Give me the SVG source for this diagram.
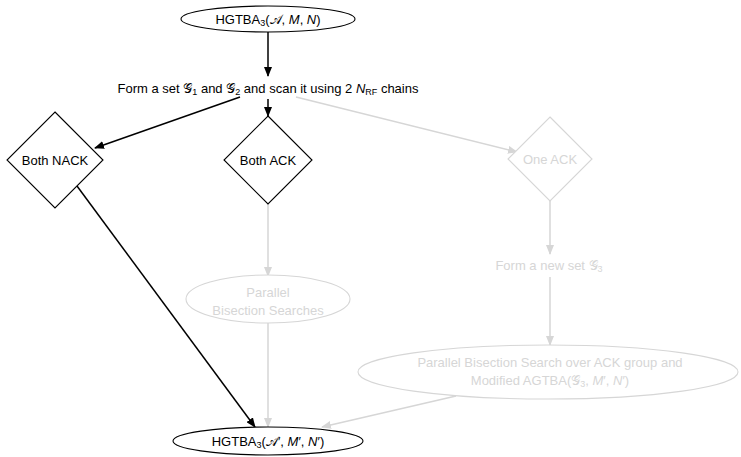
<svg xmlns="http://www.w3.org/2000/svg" width="741" height="457" viewBox="0 0 741 457">
  <style>
    text { font-family: "Liberation Sans", Arial, sans-serif; font-size: 13px; text-anchor: middle; }
    .on { fill: #000; }
    .off { fill: #d6d6d6; }
    .m { font-style: italic; }
    .sc { font-family: "DejaVu Sans", "Noto Sans", serif; font-style: normal; }
    .node-on { fill: #fff; stroke: #000; stroke-width: 1.1; }
    .node-off { fill: #fff; stroke: #d6d6d6; stroke-width: 1.1; }
    .edge-on { fill: none; stroke: #000; stroke-width: 1.5; marker-end: url(#arrow-on); }
    .edge-off { fill: none; stroke: #d6d6d6; stroke-width: 1.5; marker-end: url(#arrow-off); }
  </style>
  <defs>
    <marker id="arrow-on" viewBox="0 0 10 8" refX="9" refY="4" markerUnits="userSpaceOnUse" markerWidth="10" markerHeight="8" orient="auto">
      <path d="M0,0 L10,4 L0,8 z" fill="#000"/>
    </marker>
    <marker id="arrow-off" viewBox="0 0 10 8" refX="9" refY="4" markerUnits="userSpaceOnUse" markerWidth="10" markerHeight="8" orient="auto">
      <path d="M0,0 L10,4 L0,8 z" fill="#d6d6d6"/>
    </marker>
  </defs>

  <g id="edges">
    <path class="edge-on" d="M268,32 L268,76"/>
    <path class="edge-on" d="M240,97 L95,148"/>
    <path class="edge-on" d="M268,99 L268,116"/>
    <path class="edge-off" d="M296,97 L517,152"/>
    <path class="edge-off" d="M268,204 L268,276"/>
    <path class="edge-off" d="M268,323 L268,427"/>
    <path class="edge-on" d="M77,186 L255,427"/>
    <path class="edge-off" d="M550,201 L550,254"/>
    <path class="edge-off" d="M550,277 L550,345"/>
    <path class="edge-off" d="M456,396 L322,427"/>
  </g>

  <g id="start">
    <ellipse class="node-on" cx="268" cy="19" rx="87" ry="13"/>
    <text class="on" x="268" y="24">HGTBA<tspan font-size="9" dy="2">3</tspan><tspan dy="-2">(</tspan><tspan class="sc">𝒜</tspan>, <tspan class="m">M</tspan>, <tspan class="m">N</tspan>)</text>
  </g>

  <g id="scan">
    <text class="on" x="268" y="93">Form a set <tspan class="sc">𝒢</tspan><tspan font-size="9" dy="2">1</tspan><tspan dy="-2"> and </tspan><tspan class="sc">𝒢</tspan><tspan font-size="9" dy="2">2</tspan><tspan dy="-2"> and scan it using 2 </tspan><tspan class="m">N</tspan><tspan font-size="9" dy="2">RF</tspan><tspan dy="-2"> chains</tspan></text>
  </g>

  <g id="both-nack">
    <polygon class="node-on" points="55,112 103,160 55,208 7,160"/>
    <text class="on" x="55" y="165">Both NACK</text>
  </g>

  <g id="both-ack">
    <polygon class="node-on" points="268,116 312,160 268,204 224,160"/>
    <text class="on" x="268" y="165">Both ACK</text>
  </g>

  <g id="one-ack">
    <polygon class="node-off" points="550,117 592,159 550,201 508,159"/>
    <text class="off" x="550" y="164">One ACK</text>
  </g>

  <g id="parallel-searches">
    <ellipse class="node-off" cx="268" cy="299" rx="82" ry="24"/>
    <text class="off" x="268" y="297">Parallel</text>
    <text class="off" x="268" y="315">Bisection Searches</text>
  </g>

  <g id="new-set">
    <text class="off" x="549" y="270">Form a new set <tspan class="sc">𝒢</tspan><tspan font-size="9" dy="2">3</tspan></text>
  </g>

  <g id="search-ack-group">
    <ellipse class="node-off" cx="548" cy="372" rx="190" ry="27"/>
    <text class="off" x="550" y="367">Parallel Bisection Search over ACK group and</text>
    <text class="off" x="550" y="385">Modified AGTBA(<tspan class="sc">𝒢</tspan><tspan font-size="9" dy="2">3</tspan><tspan dy="-2">, </tspan><tspan class="m">M</tspan>′, <tspan class="m">N</tspan>′)</text>
  </g>

  <g id="end">
    <ellipse class="node-on" cx="268" cy="441" rx="95" ry="14"/>
    <text class="on" x="268" y="446">HGTBA<tspan font-size="9" dy="2">3</tspan><tspan dy="-2">(</tspan><tspan class="sc">𝒜</tspan>′, <tspan class="m">M</tspan>′, <tspan class="m">N</tspan>′)</text>
  </g>
</svg>
